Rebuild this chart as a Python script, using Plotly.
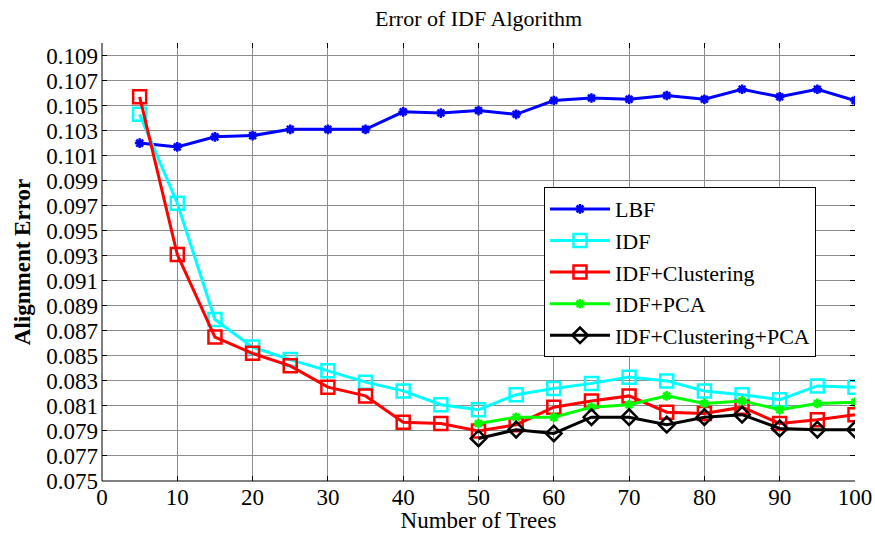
import plotly.graph_objects as go

trees = [5, 10, 15, 20, 25, 30, 35, 40, 45, 50, 55, 60, 65, 70, 75, 80, 85, 90, 95, 100]
trees_pca = [50, 55, 60, 65, 70, 75, 80, 85, 90, 95, 100]

lbf = [0.1020, 0.1017, 0.1025, 0.1026, 0.1031, 0.1031, 0.1031, 0.1045, 0.1044, 0.1046,
       0.1043, 0.1054, 0.1056, 0.1055, 0.1058, 0.1055, 0.1063, 0.1057, 0.1063, 0.1054]
idf = [0.1043, 0.0972, 0.0879, 0.0857, 0.0847, 0.0838, 0.0829, 0.0822, 0.0811, 0.0807,
       0.0819, 0.0824, 0.0828, 0.0833, 0.0830, 0.0822, 0.0819, 0.0815, 0.0826, 0.0825]
idf_clu = [0.1057, 0.0931, 0.0865, 0.0852, 0.0842, 0.0825, 0.0818, 0.0797, 0.0796, 0.0790,
           0.0795, 0.0809, 0.0814, 0.0818, 0.0805, 0.0804, 0.0809, 0.0796, 0.0799, 0.0803]
idf_pca = [0.0796, 0.0801, 0.0801, 0.0809, 0.0811, 0.0818, 0.0812, 0.0814, 0.0807, 0.0812, 0.0813]
idf_clu_pca = [0.0784, 0.0791, 0.0788, 0.0801, 0.0801, 0.0795, 0.0801, 0.0803, 0.0792, 0.0791, 0.0791]

y_ticks = [0.075 + 0.002 * i for i in range(18)]
y_tick_text = ["%.3f" % v for v in y_ticks]
x_ticks = list(range(0, 101, 10))

FONT = "Liberation Serif, Times New Roman, serif"

fig = go.Figure()
series = [
    ("LBF", trees, lbf, "#0000FF", "asterisk-open", 8),
    ("IDF", trees, idf, "#00FFFF", "square-open", 13),
    ("IDF+Clustering", trees, idf_clu, "#FF0000", "square-open", 13),
    ("IDF+PCA", trees_pca, idf_pca, "#00FF00", "asterisk-open", 8),
    ("IDF+Clustering+PCA", trees_pca, idf_clu_pca, "#000000", "diamond-open", 12),
]
for name, xs, ys, col, sym, sz in series:
    fig.add_trace(go.Scatter(
        x=xs, y=ys, name=name, mode="lines+markers",
        line=dict(color=col, width=3),
        marker=dict(symbol=sym, size=sz, color=col, line=dict(color=col, width=2.5)),
    ))

axis_common = dict(
    showline=False, mirror="ticks", ticks="inside", ticklen=5, tickwidth=1,
    tickcolor="black", showgrid=True, gridcolor="#8c8c8c", gridwidth=1,
    zeroline=False, automargin=False,
    tickfont=dict(family=FONT, size=23, color="black"),
)
fig.update_xaxes(range=[0, 100], tickvals=x_ticks, ticklabelstandoff=0,
                 title=dict(text="Number of Trees", font=dict(family=FONT, size=23, color="black"), standoff=8),
                 **axis_common)
fig.update_yaxes(range=[0.075, 0.110], tickvals=y_ticks, ticktext=y_tick_text, ticklabelstandoff=3,
                 title=dict(text="<b>Alignment Error</b>", font=dict(family=FONT, size=23, color="black"), standoff=9),
                 **axis_common)

fig.add_shape(type="line", xref="paper", yref="paper", x0=0, x1=0, y0=0, y1=1,
              line=dict(color="black", width=1))
fig.add_shape(type="line", xref="paper", yref="paper", x0=0, x1=1, y0=0, y1=0,
              line=dict(color="black", width=1))

fig.update_layout(
    width=875, height=533,
    margin=dict(l=102, r=20, t=43, b=52),
    paper_bgcolor="white", plot_bgcolor="white",
    title=dict(text="Error of IDF Algorithm", x=0.547, xanchor="center",
               y=1 - 18 / 533, yanchor="middle",
               font=dict(family=FONT, size=22, color="black")),
    font=dict(family=FONT, size=22, color="black"),
    legend=dict(x=0.587, y=0.671, xanchor="left", yanchor="top",
                bgcolor="white", bordercolor="black", borderwidth=1,
                font=dict(family=FONT, size=22, color="black"),
                itemwidth=60, tracegroupgap=0),
    showlegend=True,
)

fig.write_html("out.html")
